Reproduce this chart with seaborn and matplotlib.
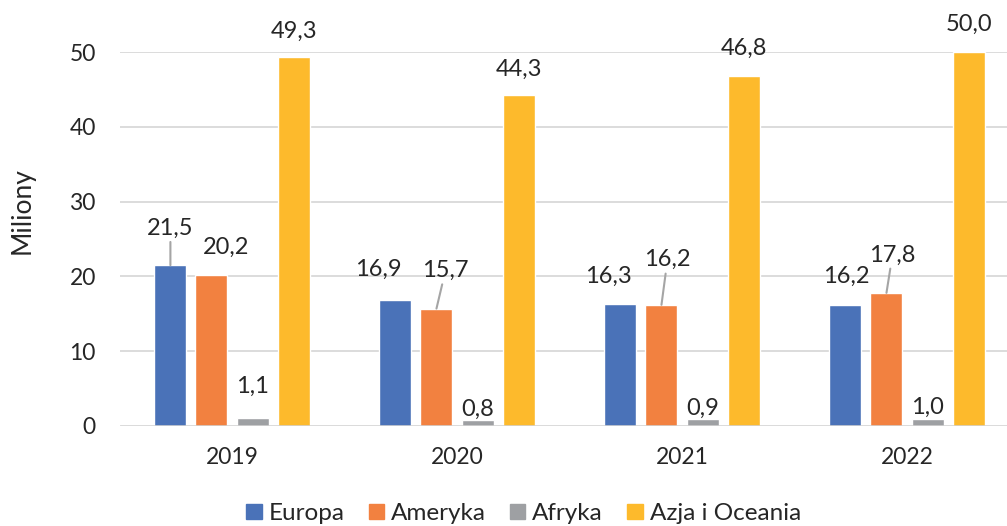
import matplotlib
matplotlib.use("Agg")
import matplotlib.pyplot as plt
import seaborn as sns
import pandas as pd

years = ["2019", "2020", "2021", "2022"]
regions = ["Europa", "Ameryka", "Afryka", "Azja i Oceania"]
europa = [21.5, 16.9, 16.3, 16.2]
ameryka = [20.2, 15.7, 16.2, 17.8]
afryka = [1.1, 0.8, 0.9, 1.0]
azja = [49.3, 44.3, 46.8, 50.0]
y_ticks = [0, 10, 20, 30, 40, 50]
y_label = "Miliony"

colors = ["#4A72B8", "#F28140", "#9EA0A3", "#FDBA2C"]
text_color = "#262626"

series = {"Europa": europa, "Ameryka": ameryka, "Afryka": afryka, "Azja i Oceania": azja}
rows = []
for r in regions:
    for y, v in zip(years, series[r]):
        rows.append({"rok": y, "wartosc": v, "region": r})
df = pd.DataFrame(rows)

sns.set_theme(style="white")
plt.rcParams["font.family"] = ["Lato", "DejaVu Sans"]

fig = plt.figure(figsize=(10.07, 5.26), dpi=100)
ax = fig.add_axes([119.5 / 1007, 100 / 526, 900 / 1007, 374 / 526])

sns.barplot(data=df, x="rok", y="wartosc", hue="region", hue_order=regions,
            order=years, palette=colors, width=0.73, gap=0.22, errorbar=None,
            saturation=1, ax=ax, zorder=3)

ax.set_xlim(-0.5, 3.5)
ax.set_ylim(0, 50)
ax.set_yticks(y_ticks)
for t in y_ticks[1:]:
    ax.axhline(t, color="#d9d9d9", lw=1.3, zorder=1)
ax.axhline(0, color="#d0d0d0", lw=1.8, zorder=4)
for s in ax.spines.values():
    s.set_visible(False)
ax.tick_params(axis="both", length=0, labelsize=16.5, colors=text_color)
ax.tick_params(axis="y", pad=17)
ax.tick_params(axis="x", pad=15)
ax.set_xlabel("")
ax.set_ylabel(y_label, fontsize=19, color=text_color)
ax.yaxis.set_label_coords(-0.094, 0.575)

# label offsets in pixels (dx, dy) and whether a leader line is drawn
default_off = (0, 28)
special = {
    ("Europa", 0): (0, 37, True),
    ("Ameryka", 0): (15, 28, False),
    ("Afryka", 0): (0, 31, False),
    ("Afryka", 1): (0, 11, False),
    ("Afryka", 2): (0, 11, False),
    ("Afryka", 3): (0, 11, False),
    ("Europa", 1): (-17, 30, False),
    ("Ameryka", 1): (9, 38, True),
    ("Europa", 2): (-12, 28, False),
    ("Ameryka", 2): (6, 45, True),
    ("Europa", 3): (1, 28, False),
    ("Ameryka", 3): (6, 38, True),
    ("Azja i Oceania", 0): (0, 26, False),
    ("Azja i Oceania", 1): (0, 25, False),
}

for r, cont in zip(regions, ax.containers):
    for i, bar in enumerate(cont):
        v = series[r][i]
        dx, dy, lead = special.get((r, i), (default_off[0], default_off[1], False))
        xc = bar.get_x() + bar.get_width() / 2
        top = bar.get_height()
        kw = {}
        if lead:
            kw["arrowprops"] = dict(arrowstyle="-", color="#a5a5a5", lw=1.5,
                                    shrinkA=0, shrinkB=0)
        ax.annotate(f"{v:.1f}".replace(".", ","), xy=(xc, top),
                    xytext=(dx, dy), textcoords="offset pixels",
                    ha="center", va="center", fontsize=17, color=text_color,
                    annotation_clip=False, zorder=5, **kw)

leg = ax.get_legend()
if leg is not None:
    leg.remove()
handles = [plt.Rectangle((0, 0), 1, 1, color=c) for c in colors]
fig.legend(handles, regions, loc="center", bbox_to_anchor=(0.520, 0.024),
           ncol=4, frameon=False, fontsize=17.5, handlelength=0.62, handleheight=0.58,
           handletextpad=0.29, columnspacing=1.0, labelcolor=text_color,
           borderpad=0.1)

fig.savefig("out.png", dpi=100)
